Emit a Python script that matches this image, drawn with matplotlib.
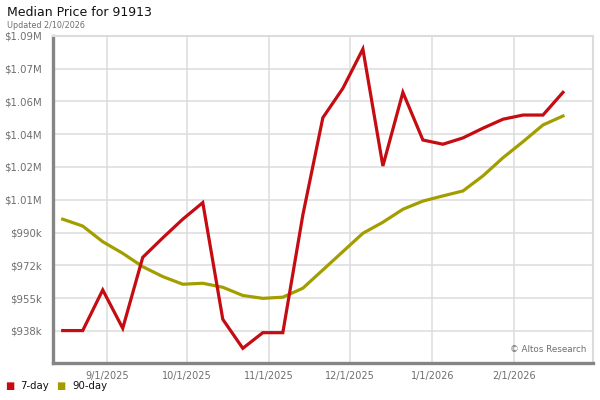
"""
Median Price for 91913 -- weekly 7-day and 90-day median list price.
"""

import matplotlib
matplotlib.use('Agg')
import matplotlib.pyplot as plt

# ── data (in $k) ─────────────────────────────────────────────────────────────
WEEKS = list(range(26))

MEDIAN_7DAY = [938.2, 938.2, 959.5, 939.4, 976.6, 986.8, 996.6, 1005.3,
               944.1, 928.9, 937.1, 937.1, 998.8, 1049.8, 1065.2, 1085.8,
               1024.5, 1063.1, 1038.1, 1035.9, 1039.2, 1044.3, 1049.0,
               1051.2, 1051.2, 1063.1]

MEDIAN_90DAY = [996.6, 993.0, 984.8, 978.7, 971.7, 966.5, 962.5, 963.0,
                960.9, 956.6, 955.1, 955.7, 960.4, 970.0, 979.6, 989.2,
                995.0, 1001.8, 1006.1, 1008.8, 1011.4, 1019.3, 1028.8,
                1037.2, 1046.0, 1050.7]

X_TICK_POS    = [2.2, 6.215, 10.315, 14.35, 18.465, 22.565]
X_TICK_LABELS = ["9/1/2025", "10/1/2025", "11/1/2025", "12/1/2025",
                 "1/1/2026", "2/1/2026"]

Y_TICKS = [938.0, 955.2, 972.4, 989.6, 1006.8, 1024.0, 1041.2, 1058.4,
           1075.6, 1092.8]
Y_TICK_LABELS = ["$938k", "$955k", "$972k", "$990k", "$1.01M", "$1.02M",
                 "$1.04M", "$1.06M", "$1.07M", "$1.09M"]

RED   = "#c40c12"
OLIVE = "#a39e00"
GRID  = "#dcdcdc"
AXIS  = "#858585"
TEXT  = "#6e6e6e"

plt.rcParams.update({"font.family": "DejaVu Sans"})

fig = plt.figure(figsize=(6, 4), dpi=100)
ax = fig.add_axes([53 / 600, 1 - 363 / 400, 540 / 600, 327.3 / 400])

ax.plot(WEEKS, MEDIAN_7DAY, color=RED, linewidth=2.3, solid_joinstyle="miter",
        zorder=3)
ax.plot(WEEKS, MEDIAN_90DAY, color=OLIVE, linewidth=2.3, zorder=2)

ax.set_xlim(-0.485, 26.5)
ax.set_ylim(921.2, 1092.8)

ax.set_xticks(X_TICK_POS)
ax.set_xticklabels(X_TICK_LABELS)
ax.set_yticks(Y_TICKS)
ax.set_yticklabels(Y_TICK_LABELS)
ax.tick_params(length=0, labelcolor=TEXT)
ax.tick_params(axis="y", pad=8, labelsize=7.3)
ax.tick_params(axis="x", pad=6, labelsize=7)

ax.grid(True, color=GRID, linewidth=1.1)
ax.set_axisbelow(True)

for side in ["top", "right"]:
    ax.spines[side].set_color(GRID)
    ax.spines[side].set_linewidth(1.5)
for side in ["left", "bottom"]:
    ax.spines[side].set_color(AXIS)
    ax.spines[side].set_linewidth(2.4)

ax.text(0.988, 0.027, "\u00a9 Altos Research", transform=ax.transAxes,
        ha="right", va="bottom", fontsize=6.3, color=TEXT)

fig.text(7 / 600, 1 - 12 / 400, "Median Price for 91913", ha="left",
         va="center", fontsize=9, color="#111111")
fig.text(7 / 600, 1 - 25 / 400, "Updated 2/10/2026", ha="left", va="center",
         fontsize=5.8, color=TEXT)

# legend: squares + labels along the bottom
fig.text(10 / 600, 1 - 386 / 400, "\u25a0", ha="center", va="center",
         fontsize=7, color=RED)
fig.text(20 / 600, 1 - 386 / 400, "7-day", ha="left", va="center",
         fontsize=7.3, color="#111111")
fig.text(61 / 600, 1 - 386 / 400, "\u25a0", ha="center", va="center",
         fontsize=7, color=OLIVE)
fig.text(72 / 600, 1 - 386 / 400, "90-day", ha="left", va="center",
         fontsize=7.3, color="#111111")

fig.savefig("out.png", dpi=100)
plt.close(fig)
